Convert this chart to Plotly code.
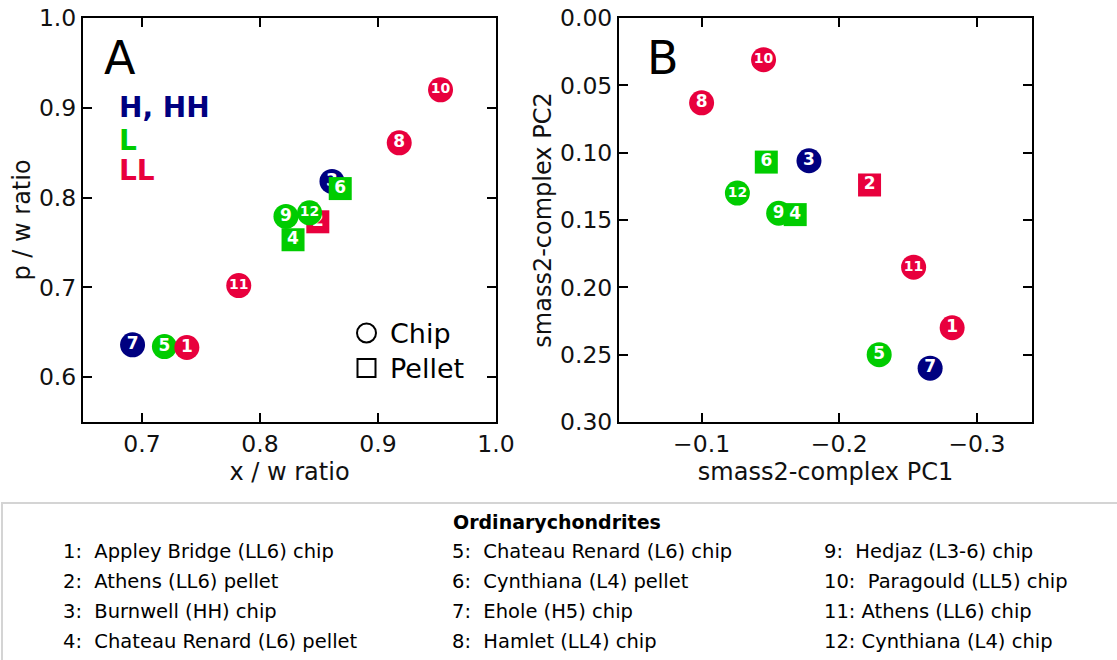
import plotly.graph_objects as go

# ---- data -------------------------------------------------------------
sample_id = [1, 2, 3, 4, 5, 6, 7, 8, 9, 10, 11, 12]
group = ["LL", "LL", "HH", "L", "L", "L", "H", "LL", "L", "LL", "LL", "L"]
prep = ["chip", "pellet", "chip", "pellet", "chip", "pellet",
        "chip", "chip", "chip", "chip", "chip", "chip"]

xw_ratio = [0.738, 0.849, 0.861, 0.828, 0.719, 0.868,
            0.692, 0.918, 0.822, 0.953, 0.782, 0.842]
pw_ratio = [0.633, 0.773, 0.818, 0.753, 0.634, 0.810,
            0.636, 0.861, 0.779, 0.920, 0.702, 0.783]

pc1 = [-0.282, -0.222, -0.178, -0.168, -0.229, -0.147,
       -0.266, -0.100, -0.156, -0.145, -0.254, -0.126]
pc2 = [0.230, 0.124, 0.106, 0.146, 0.250, 0.107,
       0.260, 0.063, 0.145, 0.031, 0.185, 0.130]

names = [
    "1:\u00a0\u00a0Appley Bridge (LL6) chip",
    "2:\u00a0\u00a0Athens (LL6) pellet",
    "3:\u00a0\u00a0Burnwell (HH) chip",
    "4:\u00a0\u00a0Chateau Renard (L6) pellet",
    "5:\u00a0\u00a0Chateau Renard (L6) chip",
    "6:\u00a0\u00a0Cynthiana (L4) pellet",
    "7:\u00a0\u00a0Ehole (H5) chip",
    "8:\u00a0\u00a0Hamlet (LL4) chip",
    "9:\u00a0\u00a0Hedjaz (L3-6) chip",
    "10:\u00a0\u00a0Paragould (LL5) chip",
    "11: Athens (LL6) chip",
    "12: Cynthiana (L4) chip",
]

# stacking order of the markers (later = on top)
order_a = [7, 5, 1, 11, 9, 4, 2, 12, 3, 6, 8, 10]
order_b = [10, 8, 6, 3, 2, 12, 9, 4, 11, 1, 5, 7]

# ---- style ------------------------------------------------------------
NAVY = "#000080"
GREEN = "#00cc00"
RED = "#e8003d"
group_color = {"H": NAVY, "HH": NAVY, "L": GREEN, "LL": RED}
FONT = "DejaVu Sans"

W, H = 1117, 660
dom_y = [1 - 422 / H, 1 - 18 / H]
dom_xa = [83 / W, 496 / W]
dom_xb = [619 / W, 1032 / W]

fig = go.Figure()


def add_points(xs, ys, order, xref, yref):
    for sid in order:
        i = sid - 1
        is_pellet = prep[i] == "pellet"
        fig.add_trace(go.Scatter(
            x=[xs[i]], y=[ys[i]],
            xaxis=xref, yaxis=yref,
            mode="markers+text",
            marker=dict(symbol="square" if is_pellet else "circle",
                        size=23 if is_pellet else 25,
                        color=group_color[group[i]],
                        line=dict(width=0)),
            text=[f"<b>{sid}</b>"],
            textposition="middle center",
            textfont=dict(family=FONT, color="white",
                          size=14 if sid >= 10 else 17),
            showlegend=False, hoverinfo="skip",
        ))


add_points(xw_ratio, pw_ratio, order_a, "x", "y")
add_points(pc1, pc2, order_b, "x2", "y2")

axis_common = dict(
    showline=True, linecolor="black", linewidth=2, mirror="ticks",
    ticks="inside", ticklen=9, tickwidth=1.5, tickcolor="black",
    showgrid=False, zeroline=False, automargin=False,
    tickfont=dict(family=FONT, size=23.5, color="#111"),
    title_font=dict(family=FONT, size=24, color="#111"),
)

fig.update_layout(
    width=W, height=H, autosize=False,
    margin=dict(l=0, r=0, t=0, b=0, pad=0, autoexpand=False),
    paper_bgcolor="white", plot_bgcolor="white",
    xaxis=dict(domain=dom_xa, range=[0.65, 1.0], anchor="y",
               tickvals=[0.7, 0.8, 0.9, 1.0], ticktext=["0.7", "0.8", "0.9", "1.0"],
               title=dict(text="x / w ratio", standoff=2), **axis_common),
    yaxis=dict(domain=dom_y, range=[0.55, 1.0], anchor="x",
               tickvals=[0.6, 0.7, 0.8, 0.9, 1.0], ticktext=["0.6", "0.7", "0.8", "0.9", "1.0"],
               title=dict(text="p / w ratio", standoff=2), **axis_common),
    xaxis2=dict(domain=dom_xb, range=[-0.04, -0.34], anchor="y2",
                tickvals=[-0.1, -0.2, -0.3], ticktext=["\u22120.1", "\u22120.2", "\u22120.3"],
                title=dict(text="smass2-complex PC1", standoff=2), **axis_common),
    yaxis2=dict(domain=dom_y, range=[0.30, 0.0], anchor="x2",
                tickvals=[0.0, 0.05, 0.10, 0.15, 0.20, 0.25, 0.30],
                ticktext=["0.00", "0.05", "0.10", "0.15", "0.20", "0.25", "0.30"],
                title=dict(text="smass2-complex PC2", standoff=2), **axis_common),
)

ann = []


def px_text(x, y, text, size, color="black", bold=False, xanchor="left", yanchor="middle"):
    ann.append(dict(
        x=x / W, y=1 - y / H, xref="paper", yref="paper",
        text=f"<b>{text}</b>" if bold else text,
        showarrow=False, xanchor=xanchor, yanchor=yanchor,
        font=dict(family=FONT, size=size, color=color),
    ))


# panel letters
px_text(102, 58, "A", 46)
px_text(645, 58, "B", 46)

# meteorite class key
px_text(117, 108, "H, HH", 28, NAVY, bold=True)
px_text(117, 140, "L", 28, GREEN, bold=True)
px_text(117, 171, "LL", 28, RED, bold=True)

# preparation key
px_text(388, 333, "Chip", 27)
px_text(388, 368, "Pellet", 27)

shapes = [
    dict(type="circle", xref="paper", yref="paper",
         x0=357 / W, x1=376 / W, y0=1 - 342.5 / H, y1=1 - 323.5 / H,
         line=dict(color="black", width=2)),
    dict(type="rect", xref="paper", yref="paper",
         x0=357.5 / W, x1=375.5 / W, y0=1 - 377 / H, y1=1 - 359 / H,
         line=dict(color="black", width=2)),
    # box holding the sample list (runs off the right and bottom edges)
    dict(type="rect", xref="paper", yref="paper",
         x0=2 / W, x1=1.0 + 4 / W, y0=-4 / H, y1=1 - 503 / H,
         line=dict(color="#d4d4d4", width=2), fillcolor="rgba(0,0,0,0)"),
]

px_text(557, 522, "Ordinarychondrites", 19, bold=True, xanchor="center")
col_x = [61, 450, 822]
row_y = [551, 581, 611, 641]
for k, label in enumerate(names):
    px_text(col_x[k // 4], row_y[k % 4], label, 19.5)

fig.update_layout(annotations=ann, shapes=shapes)

fig.write_html("out.html")
